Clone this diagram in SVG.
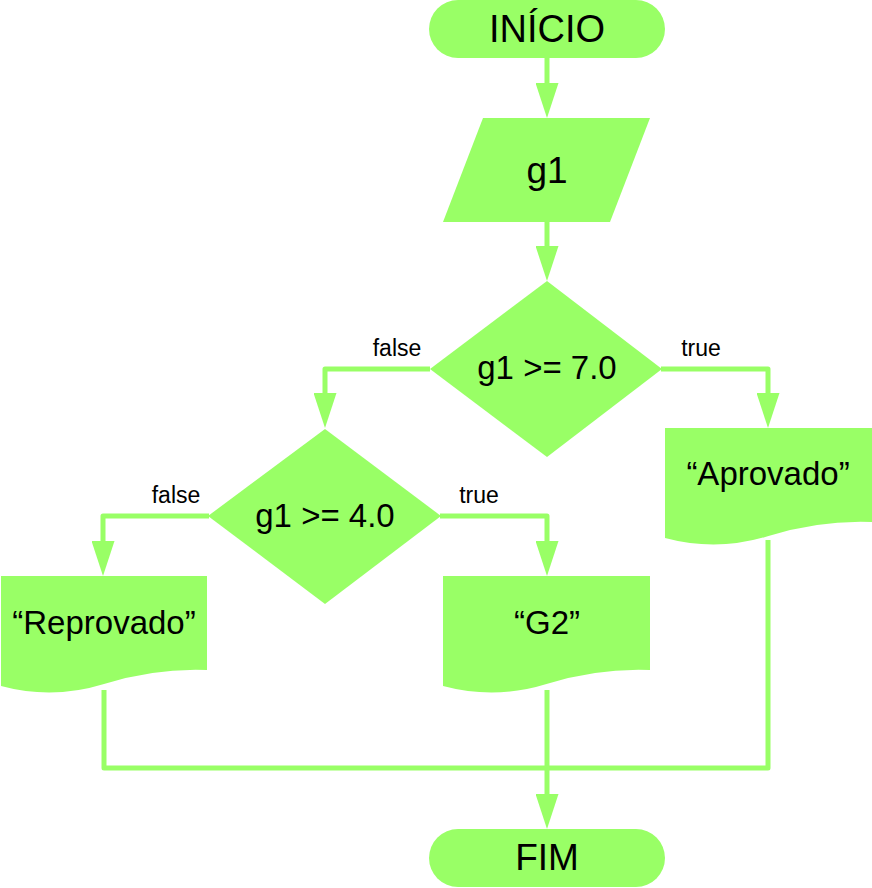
<svg xmlns="http://www.w3.org/2000/svg" width="872" height="888" viewBox="0 0 872 888">
<defs>
<style>
.shape{fill:#99ff66;stroke:none}
.conn{fill:none;stroke:#99ff66;stroke-width:5;stroke-linejoin:round;stroke-linecap:butt}
.t{font-family:"Liberation Sans",Arial,sans-serif;fill:#000;text-anchor:middle}
.big{font-size:33px}
.term{font-size:37px}
.lbl{font-family:"Liberation Sans",Arial,sans-serif;fill:#000;font-size:23px;text-anchor:middle}
</style>
<marker id="ah" markerUnits="userSpaceOnUse" viewBox="0 0 35 23" markerWidth="35" markerHeight="23" refX="0" refY="11.5" orient="auto">
<path d="M0,0 L35,11.5 L0,23 Z" fill="#99ff66"/>
</marker>
</defs>
<rect width="872" height="888" fill="#ffffff"/>
<g id="connectors">
<path class="conn" d="M547,58 V83" marker-end="url(#ah)"/>
<path class="conn" d="M547,222 V246" marker-end="url(#ah)"/>
<path class="conn" d="M430,369 H325 V393" marker-end="url(#ah)"/>
<path class="conn" d="M661,369 H768 V393" marker-end="url(#ah)"/>
<path class="conn" d="M209,516 H103 V541" marker-end="url(#ah)"/>
<path class="conn" d="M440,516 H547 V541" marker-end="url(#ah)"/>
<path class="conn" d="M104,690 V768 H768 V540"/>
<path class="conn" d="M547,690 V794" marker-end="url(#ah)"/>
</g>
<g id="inicio">
<rect class="shape" x="429" y="0" width="236" height="58" rx="29" ry="29"/>
<text class="t" x="547" y="42" font-size="38">INÍCIO</text>
</g>
<g id="g1">
<polygon class="shape" points="483,118 650,118 610,222 443,222"/>
<text class="t term" x="547" y="183">g1</text>
</g>
<g id="dec1">
<polygon class="shape" points="547,281 662,369 547,457 430,369"/>
<text class="t big" x="547" y="379">g1 &gt;= 7.0</text>
</g>
<g id="dec2">
<polygon class="shape" points="325,429 441,516 325,604 208,516"/>
<text class="t big" x="325" y="527">g1 &gt;= 4.0</text>
</g>
<g id="aprovado">
<path class="shape" d="M665,428 H872 V522 Q820,520 768.5,536 T665,538 Z"/>
<text class="t big" x="768" y="485">“Aprovado”</text>
</g>
<g id="reprovado">
<path class="shape" d="M1,576 H207 V670 Q155.5,668 104,684 T1,686 Z"/>
<text class="t big" x="104" y="634">“Reprovado”</text>
</g>
<g id="g2">
<path class="shape" d="M443,576 H650 V670 Q598,668 546.5,684 T443,686 Z"/>
<text class="t big" x="547" y="634">“G2”</text>
</g>
<g id="fim">
<rect class="shape" x="429" y="829" width="236" height="58" rx="29" ry="29"/>
<text class="t term" x="547" y="870">FIM</text>
</g>
<g id="labels">
<text class="lbl" x="397" y="356">false</text>
<text class="lbl" x="701" y="356">true</text>
<text class="lbl" x="176" y="503">false</text>
<text class="lbl" x="479" y="503">true</text>
</g>
</svg>
